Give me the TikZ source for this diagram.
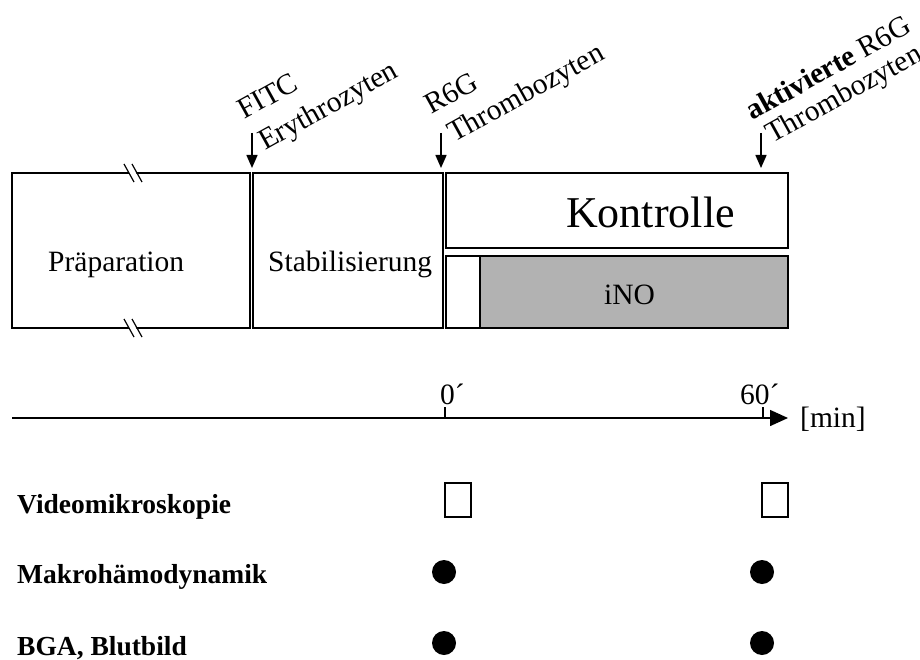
\documentclass[tikz,border=0pt]{standalone}
\usepackage{fontspec}
\setmainfont{Liberation Serif}
\usetikzlibrary{arrows.meta}
\begin{document}
\begin{tikzpicture}[x=1pt,y=-1pt,
  phase/.style={draw=black,line width=1.5pt,anchor=north west,inner sep=0pt,outer sep=0pt},
  txt/.style={inner sep=0pt,anchor=base west,font=\fontsize{29.5}{36}\selectfont},
  big/.style={inner sep=0pt,anchor=base west,font=\fontsize{44}{50}\selectfont},
  rowlab/.style={inner sep=0pt,anchor=base west,font=\fontsize{27.5}{33}\selectfont\bfseries},
  rotlab/.style={inner sep=0pt,anchor=base west,rotate=29,font=\fontsize{29.5}{36}\selectfont},
  inj/.style={line width=1.5pt,-{Triangle[width=11pt,length=13pt]}},
  vidbox/.style={draw=black,line width=1.3pt,minimum width=26pt,minimum height=34pt,inner sep=0pt},
  dotnode/.style={circle,fill=black,minimum size=24pt,inner sep=0pt}]
\useasboundingbox (0,0) rectangle (920,660);
% phase boxes
\node[phase,minimum width=238pt,minimum height=155pt] (prep) at (12,173) {};
\node[phase,minimum width=190pt,minimum height=155pt] (stab) at (253,173) {};
\node[phase,minimum width=342pt,minimum height=75pt] (kontr) at (446,173) {};
\node[phase,minimum width=34pt,minimum height=72pt] (inow) at (446,256) {};
\node[phase,fill=black!30,minimum width=308pt,minimum height=72pt] (inog) at (480,256) {};
% break marks
\fill[white] (126,173-6) -- (133,173-6) -- (139,173+6) -- (132,173+6) -- cycle;
\draw[line width=1.2pt] (124,164) -- (134,182) (132,164) -- (142,182);
\fill[white] (126,328-6) -- (133,328-6) -- (139,328+6) -- (132,328+6) -- cycle;
\draw[line width=1.2pt] (124,319) -- (134,337) (132,319) -- (142,337);
% box texts
\node[txt] (tprep) at (48,271) {Präparation};
\node[txt] (tstab) at (268,271) {Stabilisierung};
\node[big] (tkontr) at (566,228) {Kontrolle};
\node[txt] (tino) at (604,304) {iNO};
% injection arrows
\coordinate (i1a) at (252,133); \coordinate (i1b) at (252,168);
\coordinate (i2a) at (441,133); \coordinate (i2b) at (441,168);
\coordinate (i3a) at (761,133); \coordinate (i3b) at (761,168);
\draw[inj] (i1a) -- (i1b);
\draw[inj] (i2a) -- (i2b);
\draw[inj] (i3a) -- (i3b);
\node[rotlab] (l1a) at (244,120) {FITC};
\node[rotlab] (l1b) at (265,151) {Erythrozyten};
\node[rotlab] (l2a) at (431,115) {R6G};
\node[rotlab] (l2b) at (454,143) {Thrombozyten};
\node[rotlab] (l3a) at (752,121) {\textbf{aktivierte} R6G};
\node[rotlab] (l3b) at (772,144) {Thrombozyten};
% time axis
\coordinate (ax0) at (12,418); \coordinate (ax1) at (788,418);
\draw[line width=1.5pt,-{Triangle[width=16pt,length=18pt]}] (ax0) -- (ax1);
\coordinate (t0) at (445,418); \coordinate (t0u) at (445,407);
\coordinate (t60) at (763,418); \coordinate (t60u) at (763,407);
\draw[line width=1.5pt] (t0) -- (t0u) (t60) -- (t60u);
\node[txt] (l0) at (440,404) {0´};
\node[txt] (l60) at (740,404) {60´};
\node[txt] (lmin) at (800,427) {[min]};
% rows
\node[rowlab] (r1) at (17,513) {Videomikroskopie};
\node[rowlab] (r2) at (17,583) {Makrohämodynamik};
\node[rowlab] (r3) at (17,655) {BGA, Blutbild};
\node[vidbox] (v0) at (458,500) {};
\node[vidbox] (v60) at (775,500) {};
\node[dotnode] (m0) at (444,572) {};
\node[dotnode] (m60) at (762,572) {};
\node[dotnode] (b0) at (444,643) {};
\node[dotnode] (b60) at (762,643) {};
\end{tikzpicture}
\end{document}
